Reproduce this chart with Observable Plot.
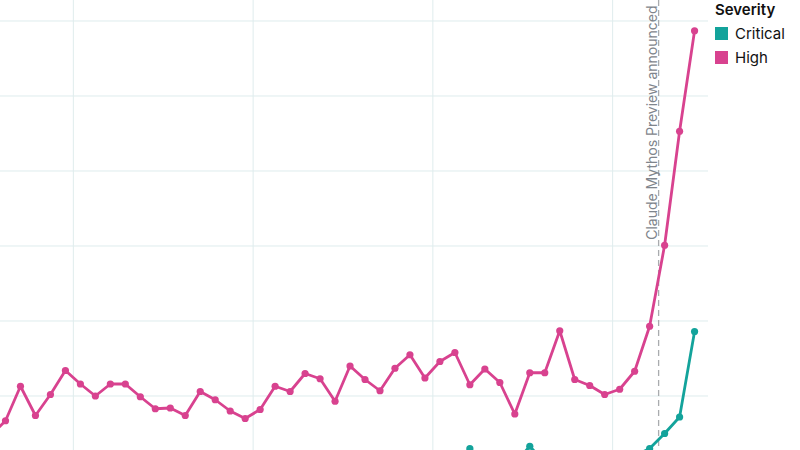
<!DOCTYPE html>
<html>
<head>
<meta charset="utf-8">
<script src="https://cdn.jsdelivr.net/npm/d3@7"></script>
<script src="https://cdn.jsdelivr.net/npm/@observablehq/plot@0.6"></script>
<style>
  html, body { margin: 0; padding: 0; background: #fff; }
  #wrap { position: relative; width: 800px; height: 450px; overflow: hidden; font-family: Inter, "Liberation Sans", sans-serif; }
  #legend { position: absolute; left: 715px; top: 0px; color: #111; }
  #legend .title { font-weight: 600; font-size: 15px; line-height: 20px; margin-bottom: 1px; }
  #legend .item { display: flex; align-items: center; font-size: 15px; height: 24px; }
  #legend .sw { width: 13px; height: 13px; margin-right: 7px; }
</style>
</head>
<body>
<div id="wrap"><div id="chart"></div><div id="legend"></div></div>
<script>
// Week index (x positions), one per observation
const weeks = d3.range(-1, 47);
// High severity series
const high = [4.7, 6.7, 11.3, 7.4, 10.2, 13.4, 11.6, 10.0, 11.6, 11.6, 9.9, 8.3, 8.4, 7.4, 10.6, 9.5,
  8.0, 7.0, 8.2, 11.3, 10.6, 13.0, 12.3, 9.3, 14.0, 12.2, 10.7, 13.7, 15.5, 12.4, 14.6, 15.8,
  11.5, 13.6, 11.8, 7.6, 13.1, 13.1, 18.7, 12.2, 11.4, 10.2, 10.9, 13.3, 19.3, 30.1, 45.3, 58.7];
// Critical severity series
const critical = [1, 0, 1, 1, 0, 1, 0, 1, 1, 0, 0, 1, 0, 1, 1, 0,
  1, 0, 0, 1, 1, 0, 1, 1, 0, 1, 0, 1, 1, 0, 1, 1,
  3.0, 1, 1, 1, 3.3, 1.1, 1, 2, 1, 1, 1, 2, 3.0, 5.0, 7.2, 18.6];
const severities = ["Critical", "High"];
const colors = ["#13a39b", "#d8428f"];
// Gridline positions
const xGrid = [4.53, 16.53, 28.53, 40.53];
const yGrid = [10, 20, 30, 40, 50, 60];
// Annotation
const eventX = 43.6;
const eventLabel = "Claude Mythos Preview announced";

const data = [];
weeks.forEach((w, i) => {
  data.push({week: w, value: critical[i], severity: "Critical"});
  data.push({week: w, value: high[i], severity: "High"});
});

const plot = Plot.plot({
  width: 800,
  height: 450,
  marginLeft: 0, marginRight: 92, marginTop: 0, marginBottom: 0,
  style: {fontFamily: "Inter, 'Liberation Sans', sans-serif", background: "#fff"},
  x: {domain: [-1/3, 46.93], axis: null},
  y: {domain: [2.7333, 62.7333], axis: null},
  color: {domain: severities, range: colors},
  marks: [
    Plot.ruleY(yGrid, {stroke: "#dfeced", strokeWidth: 1}),
    Plot.ruleX(xGrid, {stroke: "#dfeced", strokeWidth: 1}),
    Plot.ruleX([eventX], {stroke: "#a9abae", strokeWidth: 1.3, strokeDasharray: "6,4"}),
    Plot.text([eventLabel], {x: eventX, frameAnchor: "top", dy: 5, dx: -12, rotate: -90,
      textAnchor: "end", fill: "#7f858c", fontSize: 14}),
    Plot.line(data, {x: "week", y: "value", z: "severity", stroke: "severity", strokeWidth: 2.8, clip: true}),
    Plot.dot(data, {x: "week", y: "value", fill: "severity", r: 3.6, clip: true})
  ]
});
document.getElementById("chart").appendChild(plot);

const legend = document.getElementById("legend");
legend.innerHTML = `<div class="title">Severity</div>` +
  severities.map((s, i) => `<div class="item"><div class="sw" style="background:${colors[i]}"></div>${s}</div>`).join("");
</script>
</body>
</html>
